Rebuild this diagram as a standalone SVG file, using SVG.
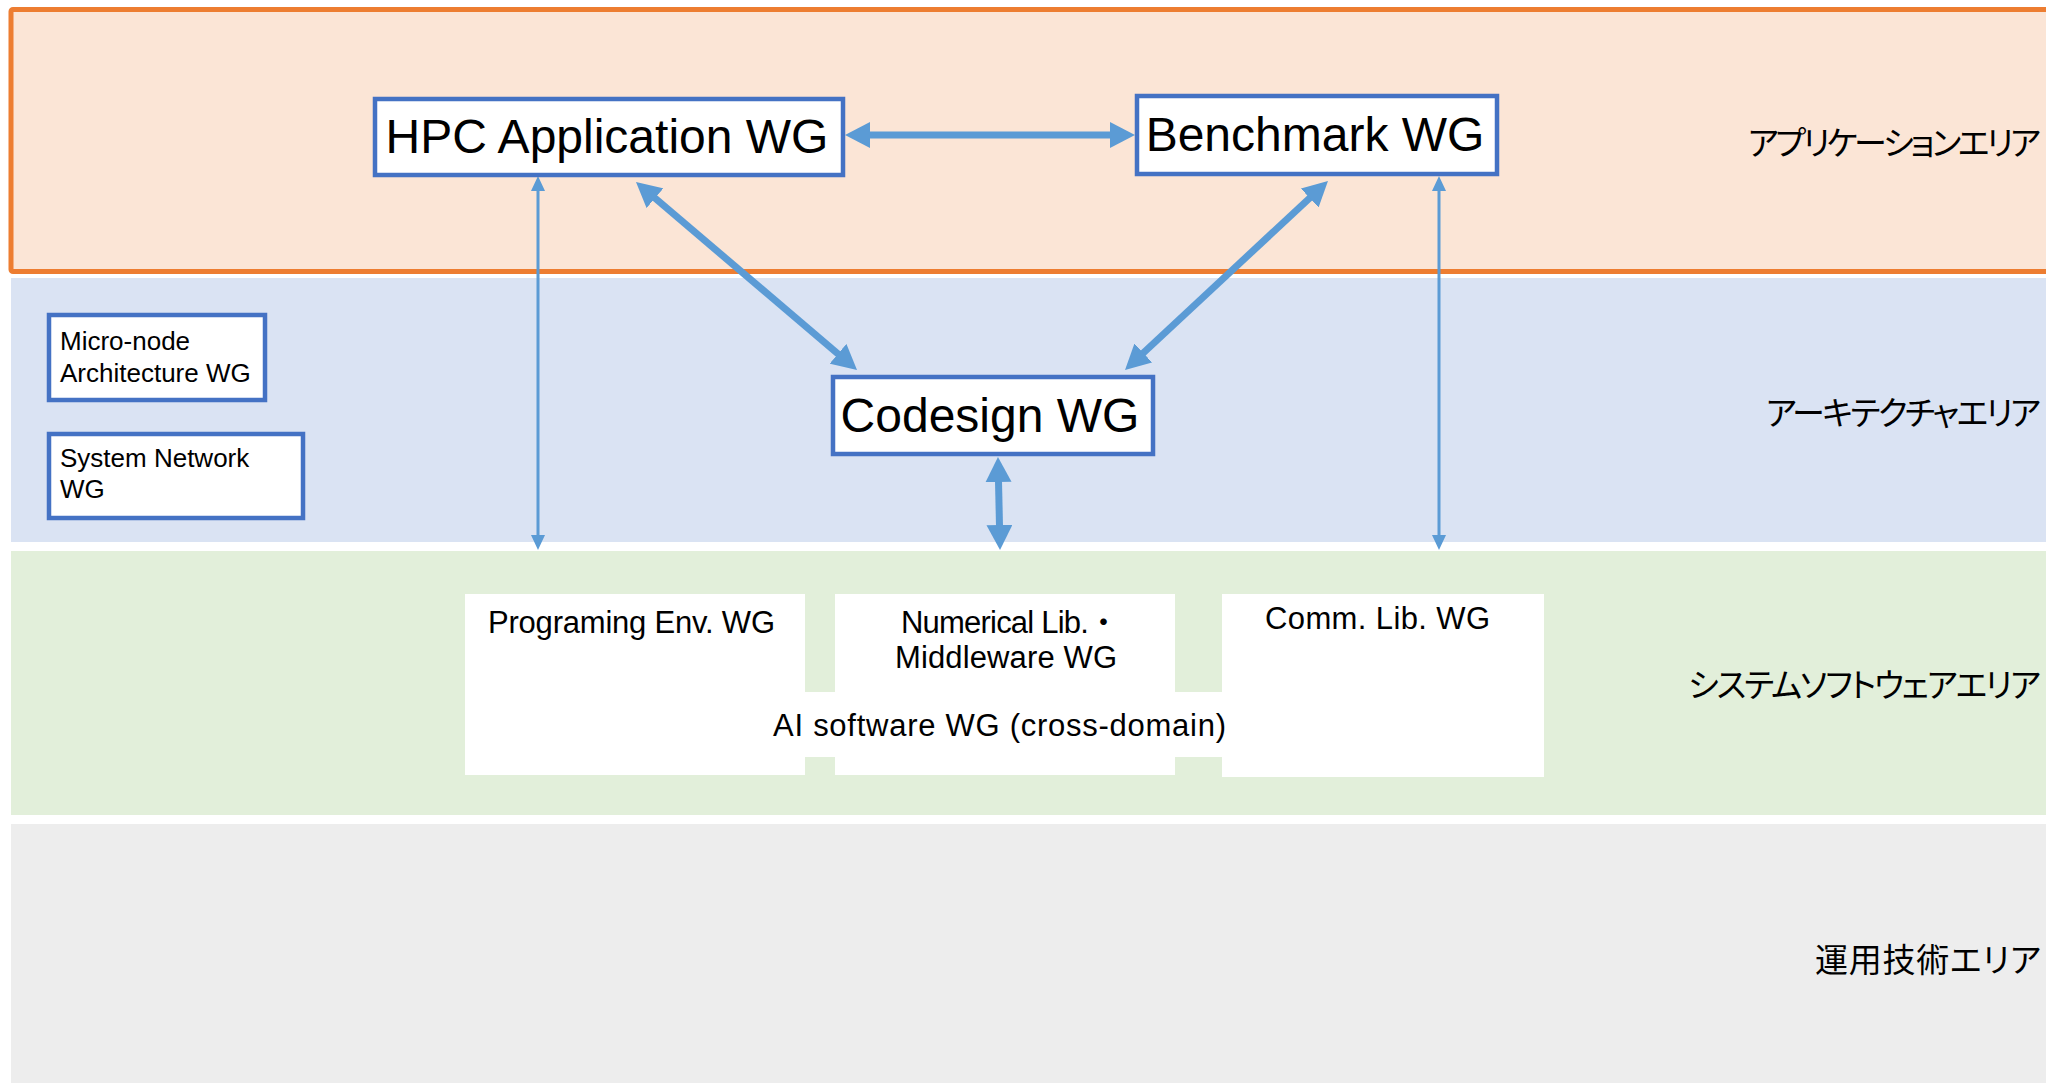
<svg xmlns="http://www.w3.org/2000/svg" width="2046" height="1083" viewBox="0 0 2046 1083">
  <style>
    .band-app { fill: #FBE5D6; stroke: #ED7D31; stroke-width: 5; }
    .band-arch { fill: #DAE3F3; }
    .band-sys { fill: #E2EFDA; }
    .band-ops { fill: #EDEDED; }
    .wg { fill: #FFFFFF; stroke: #4472C4; stroke-width: 4.5; }
    .sw { fill: #FFFFFF; }
    .t-big { font-family: "Liberation Sans", Arial, sans-serif; font-size: 48px; fill: #000; }
    .t-mid { font-family: "Liberation Sans", Arial, sans-serif; font-size: 26px; fill: #000; }
    .t-sw { font-family: "Liberation Sans", Arial, "Noto Sans CJK JP", sans-serif; font-size: 31px; fill: #000; }
    .t-area { font-family: "Noto Sans CJK JP", sans-serif; font-size: 33px; fill: #000; font-feature-settings: "palt"; }
    .thick { stroke: #5B9BD5; stroke-width: 7; fill: none; marker-start: url(#headL); marker-end: url(#headL); }
    .thin { stroke: #5B9BD5; stroke-width: 3; fill: none; marker-start: url(#headS); marker-end: url(#headS); }
  </style>
  <defs>
    <marker id="headL" markerUnits="userSpaceOnUse" markerWidth="25" markerHeight="26" refX="10" refY="13" orient="auto-start-reverse">
      <path d="M0,0 L25,13 L0,26 Z" fill="#5B9BD5"/>
    </marker>
    <marker id="headS" markerUnits="userSpaceOnUse" markerWidth="15" markerHeight="14" refX="7" refY="7" orient="auto-start-reverse">
      <path d="M0,0 L15,7 L0,14 Z" fill="#5B9BD5"/>
    </marker>
  </defs>

  <!-- area bands -->
  <g id="areas">
    <rect class="band-app" x="11" y="9.5" width="2050" height="262" rx="2"/>
    <rect class="band-arch" x="11" y="278" width="2040" height="264"/>
    <rect class="band-sys" x="11" y="551" width="2040" height="264"/>
    <rect class="band-ops" x="11" y="824" width="2040" height="265"/>
  </g>

  <!-- area labels -->
  <g id="area-labels">
    <text class="t-area" x="2041" y="155" text-anchor="end" textLength="293" lengthAdjust="spacing">アプリケーションエリア</text>
    <text class="t-area" x="2041" y="425" text-anchor="end" textLength="275" lengthAdjust="spacing">アーキテクチャエリア</text>
    <text class="t-area" x="2041" y="697" text-anchor="end" textLength="353" lengthAdjust="spacing">システムソフトウェアエリア</text>
    <text class="t-area" x="2041" y="972" text-anchor="end" textLength="226" lengthAdjust="spacing">運用技術エリア</text>
  </g>

  <!-- system software working groups -->
  <g id="programing-env-wg">
    <rect class="sw" x="465" y="594" width="340" height="181"/>
    <text class="t-sw" x="488" y="633" textLength="287" lengthAdjust="spacing">Programing Env. WG</text>
  </g>
  <g id="numerical-lib-wg">
    <rect class="sw" x="835" y="594" width="340" height="181"/>
    <text class="t-sw" x="901" y="633" textLength="218" lengthAdjust="spacing">Numerical Lib.・</text>
    <text class="t-sw" x="895" y="668" textLength="222" lengthAdjust="spacing">Middleware WG</text>
  </g>
  <g id="comm-lib-wg">
    <rect class="sw" x="1222" y="594" width="322" height="183"/>
    <text class="t-sw" x="1265" y="629" textLength="225" lengthAdjust="spacing">Comm. Lib. WG</text>
  </g>
  <!-- cross-domain strip spanning the three boxes -->
  <g id="ai-software-wg">
    <rect class="sw" x="465" y="692" width="1079" height="65"/>
    <text class="t-sw" x="773" y="736" textLength="453" lengthAdjust="spacing">AI software WG (cross-domain)</text>
  </g>

  <!-- connectors -->
  <g id="connectors">
    <line class="thick" x1="860" y1="135" x2="1120" y2="135"/>
    <line class="thick" x1="647.4" y1="191.7" x2="845.6" y2="360.3"/>
    <line class="thick" x1="1317" y1="191.2" x2="1136" y2="359.8"/>
    <line class="thick" x1="998.3" y1="472" x2="999.7" y2="535"/>
    <line class="thin" x1="538" y1="184" x2="538" y2="542"/>
    <line class="thin" x1="1439" y1="184" x2="1439" y2="542"/>
  </g>

  <!-- application / architecture working groups -->
  <g id="hpc-application-wg">
    <rect class="wg" x="375" y="99" width="468" height="76"/>
    <text class="t-big" x="607" y="153" text-anchor="middle">HPC Application WG</text>
  </g>
  <g id="benchmark-wg">
    <rect class="wg" x="1137" y="96" width="360" height="78"/>
    <text class="t-big" x="1315" y="151" text-anchor="middle">Benchmark WG</text>
  </g>
  <g id="codesign-wg">
    <rect class="wg" x="833" y="377" width="320" height="77"/>
    <text class="t-big" x="990" y="432" text-anchor="middle">Codesign WG</text>
  </g>
  <g id="micro-node-wg">
    <rect class="wg" x="49" y="315" width="216" height="85"/>
    <text class="t-mid" x="60" y="350">Micro-node</text>
    <text class="t-mid" x="60" y="382">Architecture WG</text>
  </g>
  <g id="system-network-wg">
    <rect class="wg" x="49" y="434" width="254" height="84"/>
    <text class="t-mid" x="60" y="467">System Network</text>
    <text class="t-mid" x="60" y="498">WG</text>
  </g>
</svg>
